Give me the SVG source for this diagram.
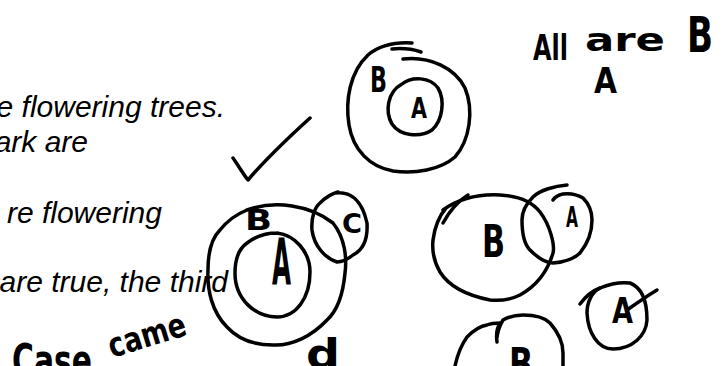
<svg xmlns="http://www.w3.org/2000/svg" width="727" height="366" viewBox="0 0 727 366">
<style>
.typed{font-family:"Liberation Sans",Arial,sans-serif;font-style:italic;font-size:30px;fill:#000}
.ink{fill:none;stroke:#000;stroke-width:3.5;stroke-linecap:round;stroke-linejoin:round}
.hw{font-family:"DejaVu Sans Condensed","DejaVu Sans",sans-serif;font-weight:bold;fill:#000}
</style>
<rect width="727" height="366" fill="#fff"/>
<g id="typed-text">
<text class="typed" x="225" y="117" text-anchor="end">e flowering trees.</text>
<text class="typed" x="88" y="152" text-anchor="end">ark are</text>
<text class="typed" x="162" y="223" text-anchor="end">re flowering</text>
<text class="typed" x="228" y="292" text-anchor="end">are true, the third</text>
</g>
<g id="notes">
<text class="hw" x="533" y="60" font-size="36" textLength="35" lengthAdjust="spacingAndGlyphs">All</text>
<text class="hw" x="585" y="51" font-size="32" textLength="80" lengthAdjust="spacingAndGlyphs">are</text>
<text class="hw" x="687" y="52" font-size="50" textLength="26" lengthAdjust="spacingAndGlyphs">B</text>
<text class="hw" x="594" y="93" font-size="36" textLength="23" lengthAdjust="spacingAndGlyphs">A</text>
<text class="hw" x="112" y="358" font-size="34" textLength="80" lengthAdjust="spacingAndGlyphs" transform="rotate(-17 112 358)">came</text>
<text class="hw" x="12" y="376" font-size="44" textLength="80" lengthAdjust="spacingAndGlyphs">Case</text>
<text class="hw" x="306" y="368" font-size="40" textLength="34" lengthAdjust="spacingAndGlyphs">d</text>
</g>
<g id="check">
<path class="ink" d="M233,158 C238,165 243,174 248,180 C265,160 288,138 310,118"/>
</g>
<g id="venn-top">
<path class="ink" d="M403,59 C430,56 455,68 465,88 C474,110 470,140 455,157 C440,170 415,174 393,171 C370,167 353,150 349,125 C345,100 350,72 368,55 C380,45 395,42 412,43"/>
<path class="ink" d="M392,49 C402,48 412,49 421,52"/>
<path class="ink" d="M402,84 C412,76 430,77 438,88 C445,100 443,120 432,130 C420,138 400,136 392,124 C385,112 387,92 402,84"/>
<text class="hw" x="370" y="92" font-size="36" textLength="17" lengthAdjust="spacingAndGlyphs">B</text>
<text class="hw" x="411" y="118" font-size="28" textLength="16" lengthAdjust="spacingAndGlyphs">A</text>
</g>
<g id="venn-mid">
<path class="ink" d="M247,210 C275,200 310,205 333,223 C345,238 347,258 345,273 C343,295 338,310 327,320 C312,336 292,346 273,345 C252,345 237,338 227,327 C212,312 207,290 208,270 C208,250 212,238 220,230 C228,220 237,214 247,210"/>
<path class="ink" d="M277,233 C295,235 310,252 310,272 C310,298 296,317 277,317 C256,317 235,300 235,273 C235,258 240,248 247,243 C256,236 266,233 277,233"/>
<path class="ink" d="M335,193 C350,191 362,200 367,223 C368,240 363,250 353,255 C347,260 342,262 337,262 C325,258 314,246 312,230 C311,217 315,207 320,203 C325,198 330,194 338,192"/>
<text class="hw" x="245" y="230" font-size="28" textLength="27" lengthAdjust="spacingAndGlyphs">B</text>
<text class="hw" x="272" y="285" font-size="64" textLength="19" lengthAdjust="spacingAndGlyphs">A</text>
<text class="hw" x="342" y="233" font-size="26" textLength="20" lengthAdjust="spacingAndGlyphs">C</text>
</g>
<g id="venn-right">
<path class="ink" d="M443,223 C450,210 460,200 468,195"/>
<path class="ink" d="M443,210 C460,198 480,194 500,195 C520,196 533,203 540,212 C550,225 555,245 553,253 C548,270 538,285 520,295 C510,300 500,301 490,300 C470,296 450,288 440,272 C433,260 432,250 433,240 C435,225 440,215 446,208"/>
<path class="ink" d="M567,185 C555,186 540,190 533,197 C525,205 522,212 522,220 C522,235 525,245 530,250 C538,258 545,263 553,263 C565,262 575,258 580,253 C588,243 592,232 592,220 C592,210 588,203 583,198 C578,195 570,193 563,194 C558,195 555,197 553,200"/>
<text class="hw" x="482" y="257" font-size="44" textLength="23" lengthAdjust="spacingAndGlyphs">B</text>
<text class="hw" x="566" y="227" font-size="28" textLength="12" lengthAdjust="spacingAndGlyphs">A</text>
</g>
<g id="crossed-a">
<path class="ink" d="M580,304 C586,296 592,291 600,288"/>
<path class="ink" d="M600,288 C612,283 622,282 630,283 C643,288 647,303 647,320 C646,336 632,349 613,349 C598,349 588,333 587,313 C587,302 592,292 600,288"/>
<path class="ink" d="M627,310 C637,303 647,296 657,290"/>
<text class="hw" x="612" y="323" font-size="36" textLength="21" lengthAdjust="spacingAndGlyphs">A</text>
</g>
<g id="venn-bottom">
<path class="ink" d="M455,366 C458,352 462,344 467,337 C474,330 480,326 487,325 C492,323 496,323 500,323 C497,328 496,335 497,342"/>
<path class="ink" d="M497,337 C498,330 500,325 503,320 C510,316 516,315 523,315 C535,315 545,318 550,323 C558,332 563,342 563,353 C563,358 563,362 563,366"/>
<text class="hw" x="509" y="380" font-size="44" textLength="24" lengthAdjust="spacingAndGlyphs">B</text>
</g>
</svg>
